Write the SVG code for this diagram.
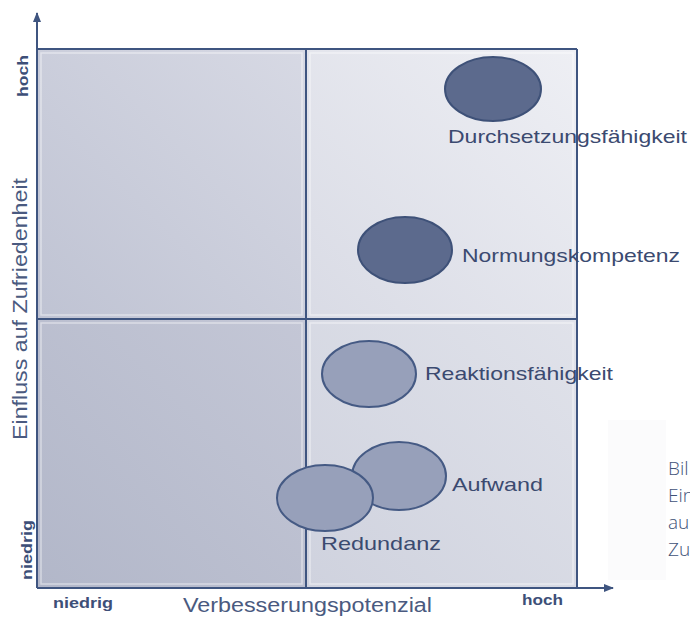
<svg xmlns="http://www.w3.org/2000/svg" width="690" height="618" viewBox="0 0 690 618">
<style>
.ax{stroke:#3f5580;stroke-width:2;fill:none}
.tick{font-family:"Liberation Sans",Arial,sans-serif;font-weight:bold;font-size:15px;fill:#3d4f78}
.title{font-family:"Liberation Sans",Arial,sans-serif;font-size:20px;fill:#4a5a80}
.lbl{font-family:"Liberation Sans",Arial,sans-serif;font-size:19px;fill:#3b4a70}
.dark{fill:#5c6a8d;stroke:#3e5178;stroke-width:2}
.light{fill:#97a0ba;stroke:#455a84;stroke-width:2}
.cap{font-family:"Open Sans","DejaVu Sans",sans-serif;font-weight:300;font-size:19px;fill:#3f5278}
.bevel{fill:none;stroke:#ffffff;stroke-opacity:0.45;stroke-width:1.5}
</style>
<defs>
<linearGradient id="gTL" x1="0" y1="1" x2="1" y2="0">
<stop offset="0" stop-color="#bfc3d3"/><stop offset="1" stop-color="#d7d9e4"/>
</linearGradient>
<linearGradient id="gBL" x1="0" y1="1" x2="1" y2="0">
<stop offset="0" stop-color="#b2b7c9"/><stop offset="1" stop-color="#c4c7d6"/>
</linearGradient>
<linearGradient id="gTR" x1="0" y1="1" x2="1" y2="0">
<stop offset="0" stop-color="#d9dbe5"/><stop offset="1" stop-color="#eeeff4"/>
</linearGradient>
<linearGradient id="gBR" x1="0" y1="1" x2="1" y2="0">
<stop offset="0" stop-color="#cfd2de"/><stop offset="1" stop-color="#e0e2ea"/>
</linearGradient>
<marker id="arr" viewBox="0 0 10 10" refX="9" refY="5" markerWidth="5" markerHeight="5" orient="auto">
<path d="M0,1 L10,5 L0,9 Z" fill="#3f5580"/>
</marker>
</defs>
<rect width="690" height="618" fill="#ffffff"/>
<rect x="608" y="420" width="58" height="160" fill="#fbfbfc"/>

<g id="quadrants">
<rect x="37" y="49" width="269" height="270" fill="url(#gTL)"/>
<rect x="37" y="319" width="269" height="269" fill="url(#gBL)"/>
<rect x="306" y="49" width="271" height="270" fill="url(#gTR)"/>
<rect x="306" y="319" width="271" height="269" fill="url(#gBR)"/>
<rect x="41" y="53" width="261" height="262" class="bevel"/>
<rect x="41" y="323" width="261" height="261" class="bevel"/>
<rect x="310" y="53" width="263" height="262" class="bevel"/>
<rect x="310" y="323" width="263" height="261" class="bevel"/>
</g>

<g id="axes">
<line x1="37" y1="588" x2="37" y2="13" class="ax" marker-end="url(#arr)"/>
<line x1="37" y1="588" x2="613" y2="588" class="ax" marker-end="url(#arr)"/>
<line x1="37" y1="49" x2="577" y2="49" class="ax"/>
<line x1="577" y1="49" x2="577" y2="588" class="ax"/>
<line x1="306" y1="49" x2="306" y2="588" class="ax"/>
<line x1="37" y1="319" x2="577" y2="319" class="ax"/>
</g>

<g id="axis-labels">
<text class="tick" transform="translate(28,76) rotate(-90)" text-anchor="middle" textLength="42" lengthAdjust="spacingAndGlyphs">hoch</text>
<text class="tick" transform="translate(32,550) rotate(-90)" text-anchor="middle" textLength="60" lengthAdjust="spacingAndGlyphs">niedrig</text>
<text class="tick" x="53" y="608" textLength="60" lengthAdjust="spacingAndGlyphs">niedrig</text>
<text class="tick" x="522" y="605" textLength="41" lengthAdjust="spacingAndGlyphs">hoch</text>
<text class="title" x="183" y="612" textLength="249" lengthAdjust="spacingAndGlyphs">Verbesserungspotenzial</text>
<text class="title" transform="translate(27,440) rotate(-90)" textLength="262" lengthAdjust="spacingAndGlyphs">Einfluss auf Zufriedenheit</text>
</g>

<g id="node-durchsetzung">
<ellipse cx="493" cy="89" rx="48" ry="32" class="dark"/>
<text class="lbl" x="448" y="143" textLength="239" lengthAdjust="spacingAndGlyphs">Durchsetzungsfähigkeit</text>
</g>
<g id="node-normung">
<ellipse cx="405" cy="250" rx="47" ry="33" class="dark"/>
<text class="lbl" x="462" y="262" textLength="218" lengthAdjust="spacingAndGlyphs">Normungskompetenz</text>
</g>
<g id="node-reaktion">
<ellipse cx="369" cy="374" rx="47" ry="33" class="light"/>
<text class="lbl" x="425" y="380" textLength="188" lengthAdjust="spacingAndGlyphs">Reaktionsfähigkeit</text>
</g>
<g id="node-aufwand">
<ellipse cx="399" cy="476" rx="47" ry="34" class="light"/>
<text class="lbl" x="452" y="491" textLength="91" lengthAdjust="spacingAndGlyphs">Aufwand</text>
</g>
<g id="node-redundanz">
<ellipse cx="325" cy="498" rx="48" ry="33" class="light"/>
<text class="lbl" x="321" y="550" textLength="120" lengthAdjust="spacingAndGlyphs">Redundanz</text>
</g>

<g id="caption">
<text class="cap" x="668" y="475">Bil</text>
<text class="cap" x="668" y="502">Ein</text>
<text class="cap" x="668" y="529">au</text>
<text class="cap" x="668" y="556">Zu</text>
</g>
</svg>
